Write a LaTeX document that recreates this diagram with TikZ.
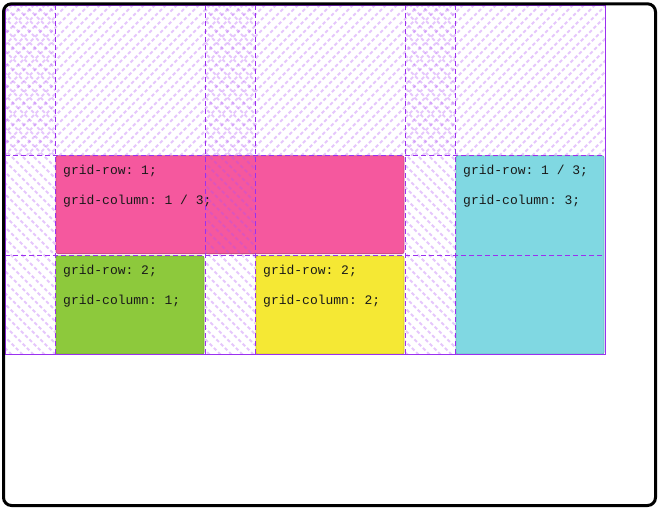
\documentclass[tikz,border=0pt]{standalone}
\usepackage{fontspec}
\setmonofont{Liberation Mono}
\definecolor{gridpurple}{HTML}{9B30F0}
\definecolor{hatchpurple}{HTML}{B050F8}
\definecolor{cellpink}{HTML}{F5589E}
\definecolor{cellcyan}{HTML}{80D8E2}
\definecolor{cellgreen}{HTML}{8DC93C}
\definecolor{cellyellow}{HTML}{F5E834}
\begin{document}
\begin{tikzpicture}[x=1pt,y=-1pt,
  cellbox/.style={line width=0.8pt,rounded corners=2pt},
  hatchline/.style={draw=hatchpurple,draw opacity=0.32,line width=1.9pt,dash pattern=on 3.5pt off 2.5pt},
  gridline/.style={draw=gridpurple,line width=0.8pt,dash pattern=on 5pt off 3pt},
  celltext/.style={anchor=base west,inner sep=0pt,font=\ttfamily\fontsize{13}{15}\selectfont,text=black!90}]
\useasboundingbox (0,0) rectangle (661,511);
\fill[white] (0,0) rectangle (661,511);
% cells
\filldraw[cellbox,fill=cellpink,draw=cellpink!85!black] (56,155.8) rectangle (404,253.6);
\filldraw[cellbox,fill=cellcyan,draw=cellcyan!85!black] (456,155.8) rectangle (604,354);
\filldraw[cellbox,fill=cellgreen,draw=cellgreen!85!black] (56,256) rectangle (204,354);
\filldraw[cellbox,fill=cellyellow,draw=cellyellow!85!black] (256,256) rectangle (404,354);
% hatch of the top band
\begin{scope}
\clip (5,5) rectangle (605,155);
\foreach \c in {-154,-143,...,610} {\draw[hatchline] (\c,160) -- (\c+160,0);}
\end{scope}
% hatch of the gap columns
\begin{scope}
\clip (5,5) rectangle (55,354) (205,5) rectangle (255,354) (405,5) rectangle (455,354);
\foreach \c in {-354,-343,...,460} {\draw[hatchline] (\c,0) -- (\c+360,360);}
\end{scope}
% dashed track lines
\foreach \x in {55,205,255,405,455} {\draw[gridline] (\x,5) -- (\x,354);}
\foreach \y in {155,255} {\draw[gridline] (5,\y) -- (605,\y);}
\draw[draw=gridpurple,line width=1pt] (5.5,5.8) rectangle (605,354.5);
% texts
\node[celltext] (t1a) at (63,174) {grid-row: 1;};
\node[celltext] (t1b) at (63,204) {grid-column: 1 / 3;};
\node[celltext] (t2a) at (463,174) {grid-row: 1 / 3;};
\node[celltext] (t2b) at (463,204) {grid-column: 3;};
\node[celltext] (t3a) at (63,274) {grid-row: 2;};
\node[celltext] (t3b) at (63,304) {grid-column: 1;};
\node[celltext] (t4a) at (263,274) {grid-row: 2;};
\node[celltext] (t4b) at (263,304) {grid-column: 2;};
% outer frame
\draw[black,line width=3pt,rounded corners=8pt] (3.5,3.8) rectangle (655.5,505.5);
\end{tikzpicture}
\end{document}
